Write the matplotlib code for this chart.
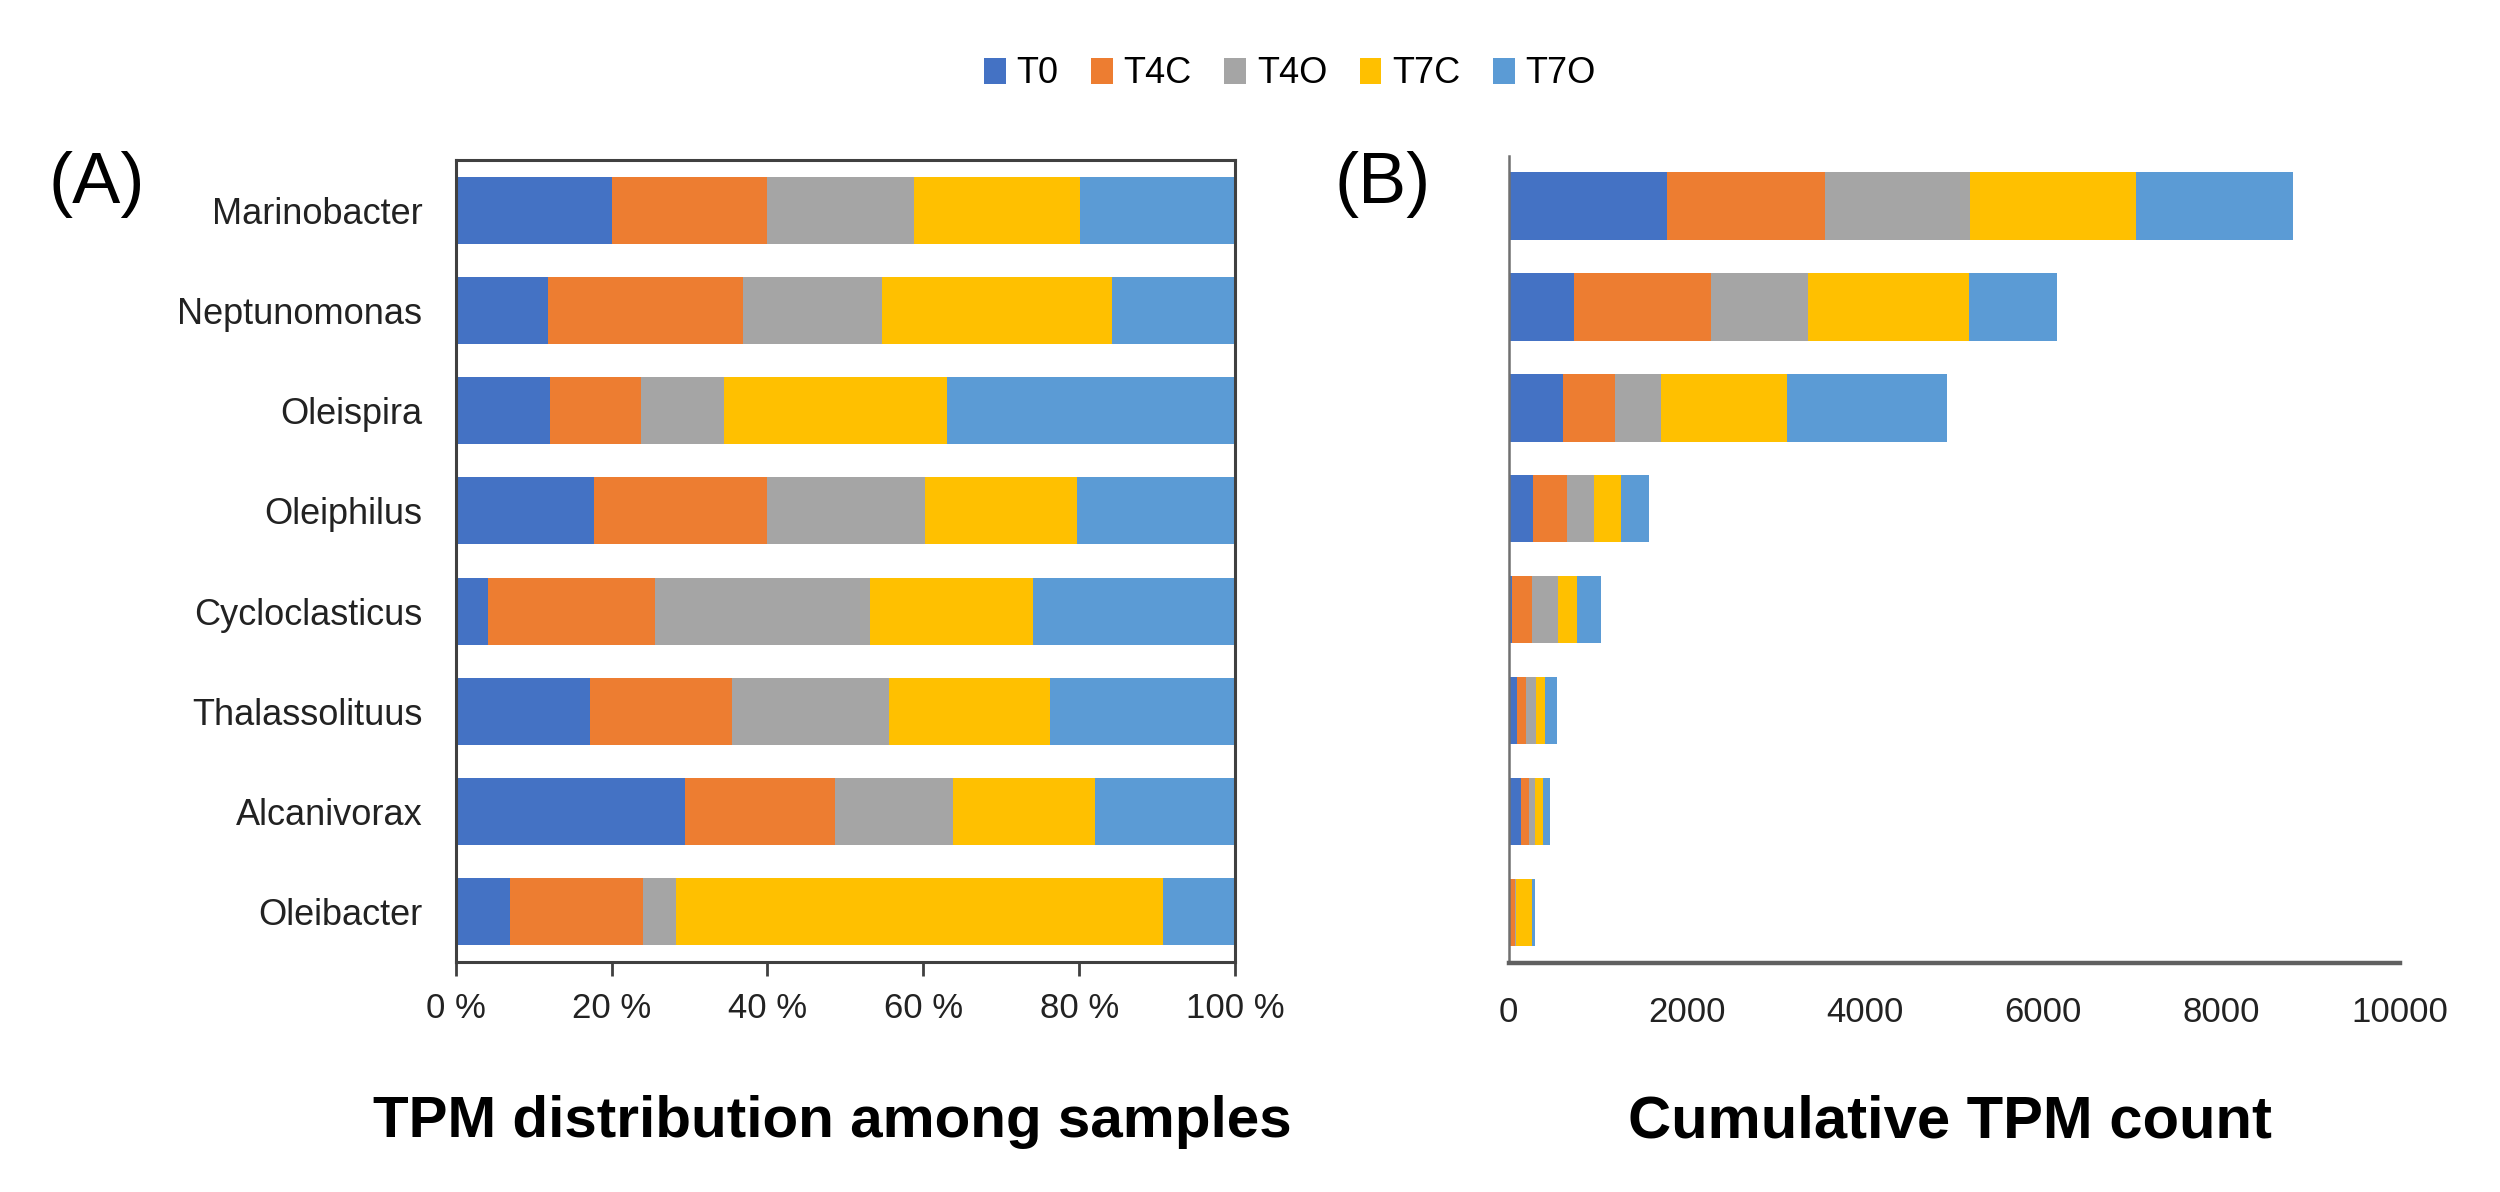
import matplotlib
matplotlib.use("Agg")
import matplotlib.pyplot as plt
import numpy as np

plt.rcParams['font.family'] = ['Liberation Sans', 'DejaVu Sans']

categories = ["Marinobacter", "Neptunomonas", "Oleispira", "Oleiphilus",
              "Cycloclasticus", "Thalassolituus", "Alcanivorax", "Oleibacter"]
series = ["T0", "T4C", "T4O", "T7C", "T7O"]
colors = ["#4472C4", "#ED7D31", "#A5A5A5", "#FFC000", "#5B9BD5"]

# Panel A: percentage distribution (%)
pct_T0  = [20.0, 11.9, 12.1, 17.8, 4.2, 17.2, 29.4, 6.9]
pct_T4C = [20.0, 25.0, 11.7, 22.2, 21.4, 18.2, 19.3, 17.1]
pct_T4O = [18.8, 17.8, 10.6, 20.2, 27.5, 20.2, 15.1, 4.3]
pct_T7C = [21.3, 29.5, 28.6, 19.5, 21.0, 20.6, 18.2, 62.4]
pct_T7O = [19.9, 15.8, 37.0, 20.3, 25.9, 23.8, 18.0, 9.3]

# Panel B: cumulative TPM counts
tpm_T0  = [1781, 734, 612, 279, 44, 94, 138, 20]
tpm_T4C = [1768, 1543, 578, 374, 223, 99, 90, 50]
tpm_T4O = [1624, 1088, 516, 306, 286, 110, 71, 13]
tpm_T7C = [1870, 1802, 1414, 299, 218, 112, 85, 182]
tpm_T7O = [1760, 985, 1802, 319, 269, 129, 85, 27]

pct_series = [pct_T0, pct_T4C, pct_T4O, pct_T7C, pct_T7O]
tpm_series = [tpm_T0, tpm_T4C, tpm_T4O, tpm_T7C, tpm_T7O]

xticks_A = [0, 20, 40, 60, 80, 100]
xticklabels_A = ["0 %", "20 %", "40 %", "60 %", "80 %", "100 %"]
xticks_B = [0, 2000, 4000, 6000, 8000, 10000]

fig = plt.figure(figsize=(25, 11.92), dpi=100)
axA = fig.add_axes([0.1823, 0.193, 0.3117, 0.6728])
axB = fig.add_axes([0.6034, 0.1921, 0.3566, 0.6774])

y = np.arange(len(categories))
h = 0.667

left = np.zeros(len(categories))
handles = []
for name, vals, c in zip(series, pct_series, colors):
    b = axA.barh(y, vals, left=left, height=h, color=c, label=name, linewidth=0)
    handles.append(b)
    left += np.array(vals)

left = np.zeros(len(categories))
for name, vals, c in zip(series, tpm_series, colors):
    axB.barh(y, vals, left=left, height=h, color=c, label=name, linewidth=0)
    left += np.array(vals)

# Panel A styling
axA.set_ylim(len(categories) - 0.5, -0.5)
axA.set_xlim(0, 100)
axA.set_yticks(y)
axA.set_yticklabels(categories, fontsize=26, color="#222222")
axA.tick_params(axis='y', length=0, pad=24)
axA.set_xticks(xticks_A)
axA.set_xticklabels(xticklabels_A, fontsize=25, color="#222222")
axA.tick_params(axis='x', length=10, width=2, color="#404040", pad=12, direction='out')
for s in axA.spines.values():
    s.set_color("#404040")
    s.set_linewidth(2.2)

# Panel B styling
axB.set_ylim(len(categories) - 0.5, -0.5)
axB.set_xlim(0, 10000)
axB.set_yticks([])
axB.set_xticks(xticks_B)
axB.set_xticklabels([str(t) for t in xticks_B], fontsize=25, color="#222222")
axB.tick_params(axis='x', length=0, pad=24)
axB.spines['top'].set_visible(False)
axB.spines['right'].set_visible(False)
axB.spines['left'].set_color("#707070")
axB.spines['left'].set_linewidth(1.8)
axB.spines['bottom'].set_color("#606060")
axB.spines['bottom'].set_linewidth(3.2)

# Panel labels
fig.text(97 / 2500, 1 - 185 / 1192, "(A)", fontsize=52, ha='center', va='center')
fig.text(1383 / 2500, 1 - 185 / 1192, "(B)", fontsize=52, ha='center', va='center')

# Titles below
fig.text(832 / 2500, 1 - 1137 / 1192, "TPM distribution among samples",
         fontsize=42, fontweight='bold', ha='center', va='baseline')
fig.text(1950 / 2500, 1 - 1137 / 1192, "Cumulative TPM count",
         fontsize=43, fontweight='bold', ha='center', va='baseline')

# Legend
fig.legend(handles=handles, labels=series, loc='center', bbox_to_anchor=(0.516, 0.938),
           ncol=5, frameon=False, fontsize=26, handlelength=0.6, handleheight=0.75,
           handletextpad=0.3, columnspacing=0.9)

fig.savefig("out.png", dpi=100)
